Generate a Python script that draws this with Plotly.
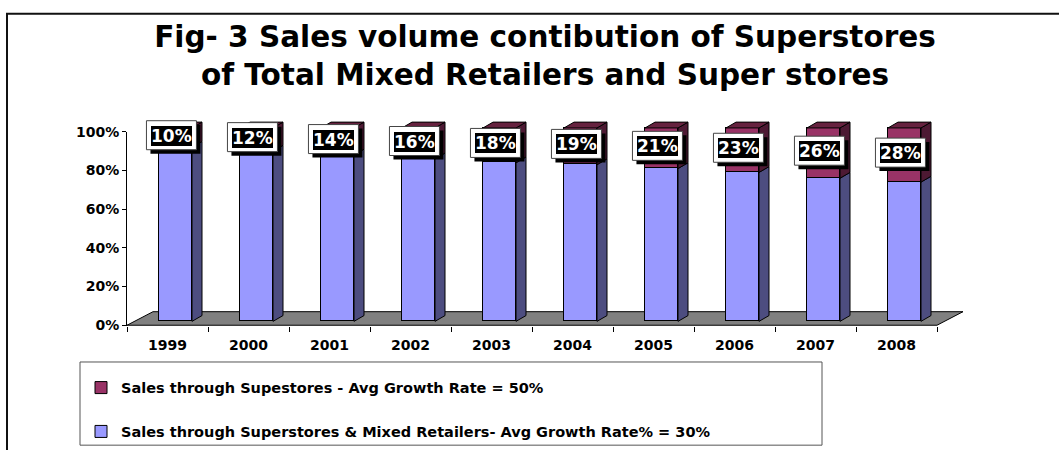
import plotly.graph_objects as go

W, H = 1059, 457

years = ["1999", "2000", "2001", "2002", "2003", "2004", "2005", "2006", "2007", "2008"]
mixed_share = [90, 88, 86, 84, 82, 81, 79, 77, 74, 72]
super_share = [10, 12, 14, 16, 18, 19, 21, 23, 26, 28]
ytick_vals = [0, 20, 40, 60, 80, 100]
ytick_text = ["0%", "20%", "40%", "60%", "80%", "100%"]
name_super = "Sales through Supestores - Avg Growth Rate = 50%"
name_mixed = "Sales through Superstores & Mixed Retailers- Avg Growth Rate% = 30%"
title_text = "Fig- 3 Sales volume contibution of Superstores<br>of Total Mixed Retailers and Super stores"

BLUE, BLUE_SIDE = "#9999FF", "#4D4D80"
PINK, PINK_SIDE, PINK_TOP = "#993366", "#4D1933", "#66223F"
FONT = "DejaVu Sans"

PXU = 81.0           # pixels per category
BAR_W = 33 / PXU     # bar width in category units
DDX = 10 / PXU       # depth shift (x) of bars
DDY = 3.0            # depth shift (y) of bars in % units
FLX = 26 / PXU       # floor depth in x
FLY = 7.0            # floor depth in y

idx = list(range(len(years)))
XR = [-0.5, 9.9]
x0px = 127
x1px = x0px + (XR[1] - XR[0]) * PXU

fig = go.Figure()

# floor (front axes)
fig.add_trace(go.Scatter(
    x=[-0.5, 9.5, 9.5 + FLX, -0.5 + FLX, -0.5],
    y=[0, 0, FLY, FLY, 0],
    fill="toself", fillcolor="#808080", mode="lines",
    line=dict(color="black", width=1), showlegend=False, hoverinfo="skip",
    xaxis="x", yaxis="y"))

# front faces
fig.add_trace(go.Bar(x=idx, y=mixed_share, width=BAR_W, name=name_mixed,
                     marker=dict(color=BLUE, line=dict(color="black", width=1)),
                     legendgroup="b", legendrank=2, xaxis="x2", yaxis="y2"))
fig.add_trace(go.Bar(x=idx, y=super_share, width=BAR_W, name=name_super,
                     marker=dict(color=PINK, line=dict(color="black", width=1)),
                     legendgroup="a", legendrank=1, xaxis="x2", yaxis="y2"))


def side(i, y0, y1):
    xr = i + BAR_W / 2
    return [xr, xr + DDX, xr + DDX, xr, xr, None], [y0, y0 + DDY, y1 + DDY, y1, y0, None]


bx, by, px_, py_, tx, ty = [], [], [], [], [], []
for i, (m, s) in enumerate(zip(mixed_share, super_share)):
    a, b = side(i, 0, m)
    bx += a; by += b
    a, b = side(i, m, m + s)
    px_ += a; py_ += b
    top = m + s
    xl, xr = i - BAR_W / 2, i + BAR_W / 2
    tx += [xl, xr, xr + DDX, xl + DDX, xl, None]
    ty += [top, top, top + DDY, top + DDY, top, None]

for xs, ys, col in [(bx, by, BLUE_SIDE), (px_, py_, PINK_SIDE), (tx, ty, PINK_TOP)]:
    fig.add_trace(go.Scatter(x=xs, y=ys, fill="toself", fillcolor=col, mode="lines",
                             line=dict(color="black", width=1), showlegend=False,
                             hoverinfo="skip", xaxis="x2", yaxis="y2"))

# data labels: shadow + white frame as pixel-sized shapes, text box as annotation
shapes = [
    dict(type="path", xref="paper", yref="paper",
         path=f"M {7/W},0 L {7/W},{1-6/H} L 1,{1-6/H}",
         line=dict(color="#111", width=2)),
    dict(type="rect", xref="paper", yref="paper", layer="below",
         x0=80 / W, x1=822 / W, y0=1 - 452 / H, y1=1 - 366 / H,
         line=dict(color="#555", width=1), fillcolor="white"),
]
annotations = []
for i, (m, s) in enumerate(zip(mixed_share, super_share)):
    xa = i - 0.05
    ya = m + s / 2 + DDY / 2
    shapes.append(dict(type="rect", xref="x2", yref="y2", xsizemode="pixel", ysizemode="pixel",
                       xanchor=xa, yanchor=ya, x0=-21, x1=29, y0=-19, y1=10,
                       fillcolor="black", line=dict(width=0), layer="above"))
    shapes.append(dict(type="rect", xref="x2", yref="y2", xsizemode="pixel", ysizemode="pixel",
                       xanchor=xa, yanchor=ya, x0=-25, x1=25, y0=-15, y1=14,
                       fillcolor="white", line=dict(color="#444", width=1), layer="above"))
    annotations.append(dict(x=xa, y=ya, xref="x2", yref="y2", showarrow=False,
                            text=f"{s}%", yshift=-1, bgcolor="black", borderpad=0,
                            borderwidth=0,
                            font=dict(family=FONT, size=17, weight="bold", color="white")))

fig.update_layout(
    width=W, height=H, margin=dict(l=0, r=0, t=0, b=0),
    paper_bgcolor="white", plot_bgcolor="rgba(0,0,0,0)",
    barmode="stack", bargap=0,
    font=dict(family=FONT, color="black"),
    title=dict(text=title_text, x=545 / W, xanchor="center", y=1 - 47 / H, yanchor="middle",
               yref="container", font=dict(family=FONT, size=29.5, weight="bold", color="black")),
    xaxis=dict(domain=[x0px / W, x1px / W], range=XR, showgrid=False, zeroline=False,
               showline=False, tickmode="array", tickvals=idx, ticktext=years, ticks="",
               ticklabelstandoff=9,
               tickfont=dict(family=FONT, size=14, weight="bold"),
               minor=dict(tickmode="array", tickvals=[i - 0.5 for i in range(11)],
                          ticks="outside", ticklen=5, tickcolor="black", showgrid=False),
               fixedrange=True),
    yaxis=dict(domain=[1 - 329 / H, 1 - 128 / H], range=[-0.5, 100], showgrid=False,
               zeroline=False, showline=True, linecolor="black", linewidth=1,
               tickmode="array", tickvals=ytick_vals, ticktext=ytick_text, ticks="outside",
               ticklen=4, tickcolor="black",
               tickfont=dict(family=FONT, size=14, weight="bold"), fixedrange=True),
    xaxis2=dict(domain=[(x0px + 8) / W, (x1px + 8) / W], range=XR, visible=False,
                anchor="y2", fixedrange=True),
    yaxis2=dict(domain=[1 - 325 / H, 1 - 112 / H], range=[-0.5, 106], visible=False,
                anchor="x2", fixedrange=True),
    showlegend=True,
    legend=dict(x=81 / W, y=1 - 376 / H, xanchor="left", yanchor="top",
                traceorder="grouped", tracegroupgap=22,
                bgcolor="rgba(0,0,0,0)", borderwidth=0,
                font=dict(family=FONT, size=14.5, weight="bold", color="black")),
    shapes=shapes,
    annotations=annotations,
)

fig.write_html("out.html")
